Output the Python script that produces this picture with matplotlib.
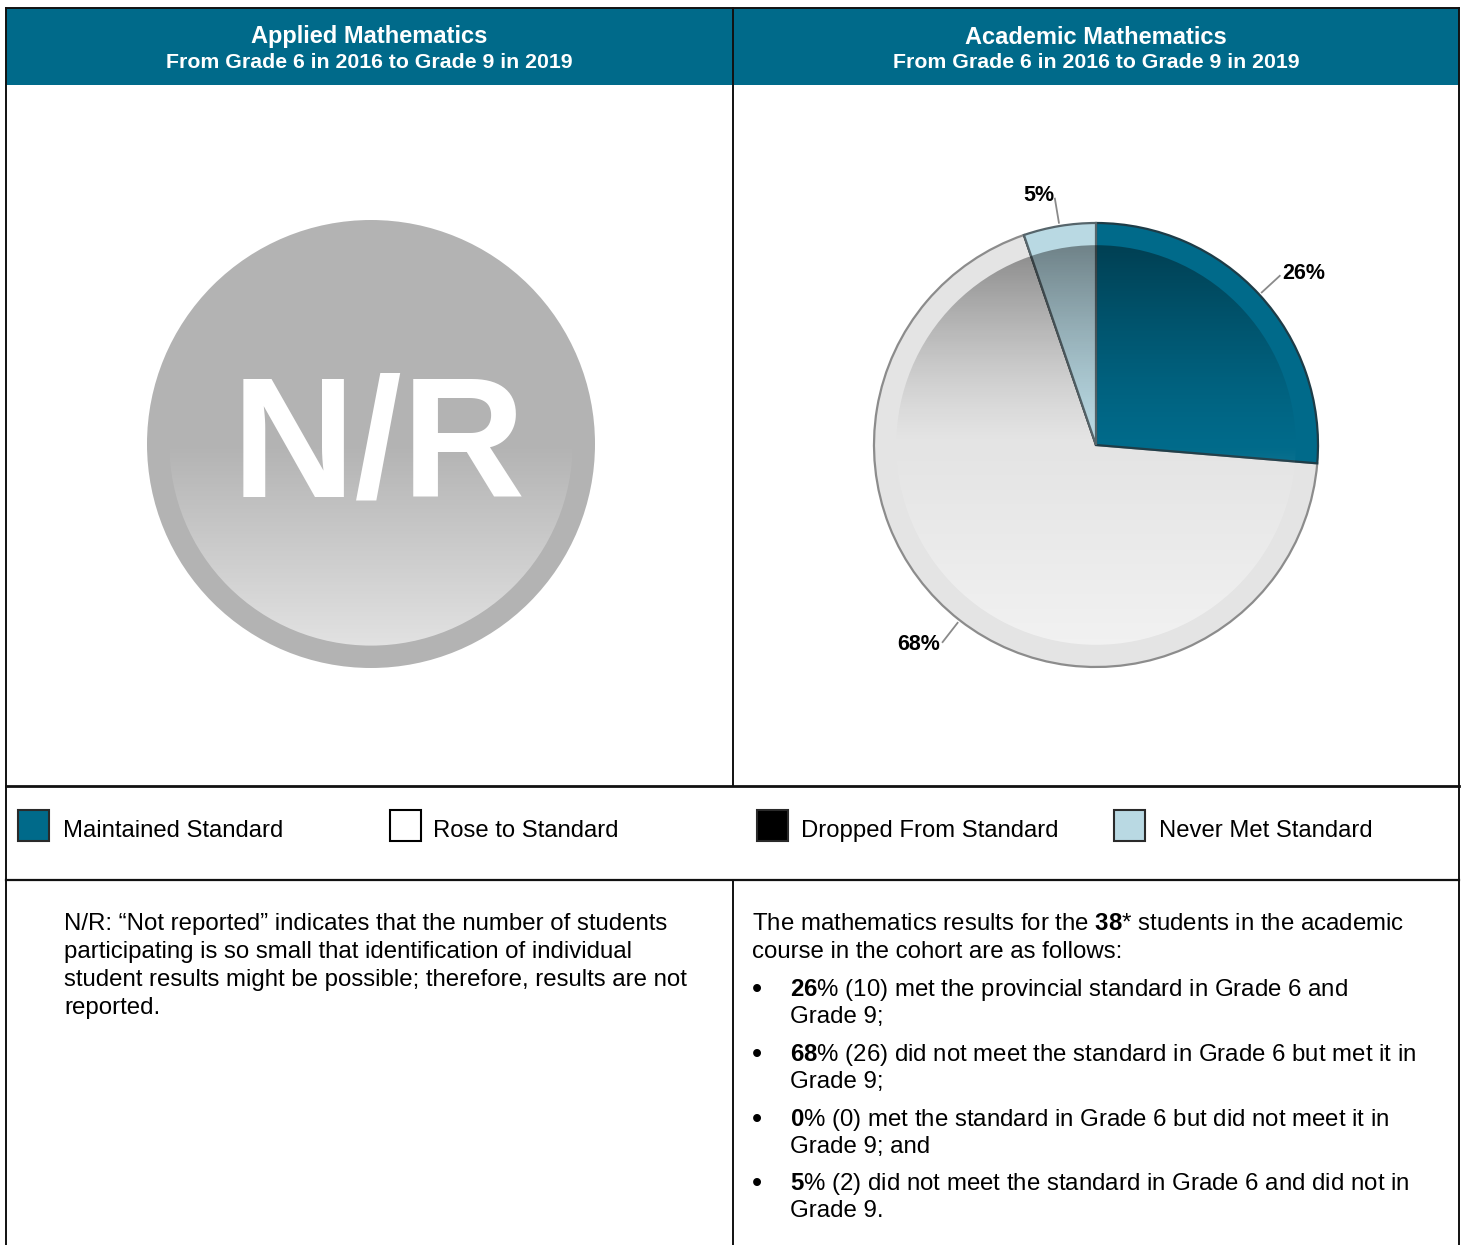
import matplotlib
matplotlib.use("Agg")
import matplotlib.pyplot as plt
import numpy as np
from matplotlib.patches import Circle, Rectangle

plt.rcParams['font.family'] = ['Liberation Sans', 'DejaVu Sans']
plt.rcParams['mathtext.fontset'] = 'custom'
plt.rcParams['mathtext.rm'] = 'Liberation Sans'
plt.rcParams['mathtext.bf'] = 'Liberation Sans:bold'

# data
categories = ["Maintained Standard", "Rose to Standard", "Dropped From Standard", "Never Met Standard"]
counts = [10, 26, 0, 2]
pcts = [26, 68, 0, 5]
legend_colors = ["#006a8a", "#ffffff", "#000000", "#b9d9e3"]
pie_colors = ["#006a8a", "#e4e4e4", "#000000", "#b9d9e3"]
titles = ["Applied Mathematics", "Academic Mathematics"]
subtitle = "From Grade 6 in 2016 to Grade 9 in 2019"

note_left = ["N/R: \u201cNot reported\u201d indicates that the number of students",
             "participating is so small that identification of individual",
             "student results might be possible; therefore, results are not",
             "reported."]
note_right = [r"The mathematics results for the $\mathbf{38}$* students in the academic",
              "course in the cohort are as follows:"]
bullets = [[r"$\mathbf{26}$% (10) met the provincial standard in Grade 6 and", "Grade 9;"],
           [r"$\mathbf{68}$% (26) did not meet the standard in Grade 6 but met it in", "Grade 9;"],
           [r"$\mathbf{0}$% (0) met the standard in Grade 6 but did not meet it in", "Grade 9; and"],
           [r"$\mathbf{5}$% (2) did not meet the standard in Grade 6 and did not in", "Grade 9."]]

W, H = 1464, 1245
fig = plt.figure(figsize=(W / 100, H / 100), dpi=100)
ax = fig.add_axes([0, 0, 1, 1])
ax.set_xlim(0, W)
ax.set_ylim(H, 0)
ax.axis('off')

# table frame
teal = "#006a8a"
ax.add_patch(Rectangle((6, 8), 1453, 77, facecolor=teal, edgecolor='none'))
lk = dict(color='#111111', lw=1.4)
ax.plot([6, 6], [8, H], **lk)
ax.plot([1459, 1459], [8, H], **lk)
ax.plot([6, 1459], [8, 8], **lk)
ax.plot([6, 1459], [786, 786], color='#111111', lw=2)
ax.plot([6, 1459], [880, 880], color='#111111', lw=1.6)
ax.plot([733, 733], [8, 786], **lk)
ax.plot([733, 733], [880, H], **lk)

for i, t in enumerate(titles):
    cx = [369.5, 1096][i]
    ax.text(cx, 37, t, color='white', fontsize=17, fontweight='bold', ha='center', va='center')
    ax.text(cx, 63, subtitle, color='white', fontsize=15.3, fontweight='bold', ha='center', va='center')

# legend
leg_x = [18, 390, 757, 1114]
txt_x = [63, 433, 801, 1159]
for i, c in enumerate(categories):
    ec = '#000000' if c == "Rose to Standard" else '#2a2a2a'
    ax.add_patch(Rectangle((leg_x[i], 810), 31, 31, facecolor=legend_colors[i], edgecolor=ec, lw=1.5))
    ax.text(txt_x[i], 831, c, fontsize=17.2, ha='left', va='center', color='black')

# notes
fs = 17.25
for k, line in enumerate(note_left):
    ax.text(64, 924 + 28 * k, line, fontsize=fs, ha='left', va='center')
for k, line in enumerate(note_right):
    ax.text(752, 924 + 28 * k, line, fontsize=fs, ha='left', va='center')
for k, b in enumerate(bullets):
    y0 = [990, 1055, 1120, 1184][k]
    ax.text(757, y0, "\u2022", fontsize=21, ha='center', va='center')
    for j, line in enumerate(b):
        ax.text(790, y0 + 27 * j, line, fontsize=fs, ha='left', va='center')


def sub_axes(cx, cy, half):
    a = fig.add_axes([(cx - half) / W, 1 - (cy + half) / H, 2 * half / W, 2 * half / H])
    a.axis('off')
    return a


def shade(a, r, top_alpha, bot_alpha, power=1.0):
    n = 400
    t = np.linspace(1, -1, n)
    img = np.zeros((n, 2, 4))
    up = t > 0
    img[up, :, 3] = (top_alpha * t[up] ** power)[:, None]
    img[~up, :, :3] = 1.0
    img[~up, :, 3] = (bot_alpha * (-t[~up]))[:, None]
    im = a.imshow(img, extent=[-r, r, -r, r], zorder=5, interpolation='bilinear', aspect='auto')
    clip = Circle((0, 0), r, transform=a.transData)
    im.set_clip_path(clip)


# N/R disc (left)
R1 = 224
ax1 = sub_axes(371, 444, 300)
lim = 300 / R1
ax1.set_xlim(-lim, lim)
ax1.set_ylim(-lim, lim)
ax1.add_patch(Circle((0, 0), 1, facecolor='#b3b3b3', edgecolor='none', zorder=1))
shade(ax1, 0.9, 0.0, 0.62)
ax1.text(0.035, (444 - 497) / R1, "N/R", color='white', fontsize=123, fontweight='bold',
         ha='center', va='baseline', zorder=10)

# pie (right)
R2 = 222
ax2 = sub_axes(1096, 445, 300)
lim = 300 / R2
wedges, _ = ax2.pie(counts, colors=pie_colors, startangle=90, counterclock=False, radius=1,
                    wedgeprops=dict(linewidth=1.6, edgecolor='#8c8c8c'))
ax2.set_xlim(-lim, lim)
ax2.set_ylim(-lim, lim)
edge_cols = ['#1e3c47', '#8c8c8c', '#333333', '#56656b']
zs = [3, 2, 2, 3]
for w, ec, z in zip(wedges, edge_cols, zs):
    w.set_edgecolor(ec)
    w.set_zorder(z)
shade(ax2, 0.9, 0.4, 0.5, power=1.3)

for w, n, p in zip(wedges, counts, pcts):
    if n == 0:
        continue
    ang = np.deg2rad((w.theta1 + w.theta2) / 2)
    ca, sa = np.cos(ang), np.sin(ang)
    ax2.plot([1.015 * ca, 1.125 * ca], [1.015 * sa, 1.125 * sa], color='#8a8a8a', lw=1.3, zorder=6)
    ha = 'left' if ca > 0 else 'right'
    ax2.text(1.14 * ca, 1.14 * sa, f"{p}%", fontsize=15.5, fontweight='bold', ha=ha, va='center', zorder=7)

fig.savefig("out.png", dpi=100)
